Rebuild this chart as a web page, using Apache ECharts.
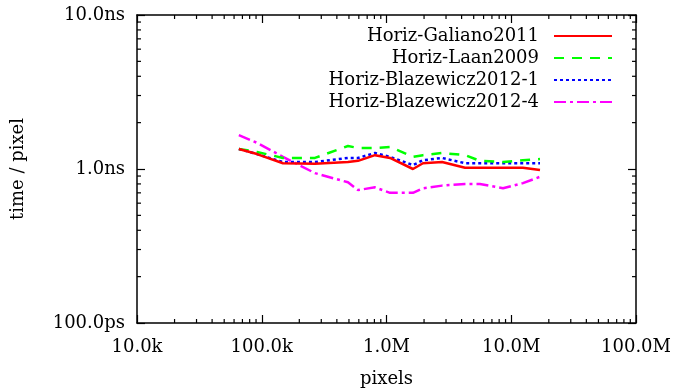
<!DOCTYPE html>
<html>
<head>
<meta charset="utf-8">
<script src="https://cdn.jsdelivr.net/npm/echarts@6/dist/echarts.min.js"></script>
<style>html,body{margin:0;padding:0;background:#fff}#c{width:673px;height:392px}</style>
</head>
<body>
<div id="c"></div>
<script>
// problem sizes (pixels)
const pixels = [65536, 91600, 148000, 267000, 491000, 591000, 809000, 1067000, 1630000, 1960000, 2790000, 4260000, 5610000, 8590000, 12400000, 17000000];
// time per pixel in ns
const galiano2011 = [1.35, 1.25, 1.09, 1.08, 1.11, 1.13, 1.23, 1.18, 1.00, 1.09, 1.11, 1.02, 1.02, 1.02, 1.02, 0.985];
const laan2009 = [1.35, 1.29, 1.18, 1.18, 1.41, 1.37, 1.37, 1.39, 1.20, 1.23, 1.27, 1.23, 1.13, 1.11, 1.14, 1.16];
const blazewicz1 = [1.35, 1.25, 1.11, 1.11, 1.18, 1.18, 1.27, 1.20, 1.06, 1.14, 1.18, 1.09, 1.09, 1.09, 1.09, 1.09];
const blazewicz4 = [1.66, 1.48, 1.20, 0.94, 0.82, 0.73, 0.76, 0.70, 0.70, 0.75, 0.78, 0.80, 0.80, 0.75, 0.81, 0.89];
const seriesNames = ['Horiz-Galiano2011', 'Horiz-Laan2009', 'Horiz-Blazewicz2012-1', 'Horiz-Blazewicz2012-4'];
const xTickLabels = ['10.0k', '100.0k', '1.0M', '10.0M', '100.0M'];
const yTickLabels = ['100.0ps', '1.0ns', '10.0ns'];

const FONT = 'DejaVu Serif';
const FS = 18;
const chart = echarts.init(document.getElementById('c'));
const zip = (xs, ys) => xs.map((x, i) => [x, ys[i]]);

const styles = [
  { color: '#ff0000', type: 'solid' },
  { color: '#00ff00', type: [10, 8] },
  { color: '#0000ff', type: [3, 3] },
  { color: '#ff00ff', type: [12, 4, 3, 4] }
];
const allData = [galiano2011, laan2009, blazewicz1, blazewicz4];

const xLab = v => xTickLabels[Math.round(Math.log10(v)) - 4] || '';
const yLab = v => yTickLabels[Math.round(Math.log10(v)) + 1] || '';

const baseX = {
  type: 'log', logBase: 10, min: 1e4, max: 1e8,
  axisLine: { show: true, lineStyle: { color: '#000', width: 1.5 } },
  axisTick: { show: true, inside: true, length: 8, lineStyle: { color: '#000', width: 1.2 } },
  splitLine: { show: false }
};
const baseY = {
  type: 'log', logBase: 10, min: 0.1, max: 10,
  axisLine: { show: true, lineStyle: { color: '#000', width: 1.5 } },
  axisTick: { show: true, inside: true, length: 8, lineStyle: { color: '#000', width: 1.2 } },
  splitLine: { show: false }
};

const legendRows = [34, 56, 78, 100];

chart.setOption({
  animation: false,
  grid: { left: 137, right: 37, top: 15, bottom: 69, containLabel: false, outerBoundsMode: 'none' },
  xAxis: [
    Object.assign({}, baseX, {
      position: 'bottom',
      name: 'pixels', nameLocation: 'middle', nameGap: 47,
      nameTextStyle: { fontFamily: FONT, fontSize: FS, color: '#000' },
      axisLabel: { formatter: xLab, fontFamily: FONT, fontSize: FS, color: '#000', margin: 15, showMinLabel: true, showMaxLabel: true }
    }),
    Object.assign({}, baseX, { position: 'top', axisLabel: { show: false } })
  ],
  yAxis: [
    Object.assign({}, baseY, {
      position: 'left',
      name: 'time / pixel', nameLocation: 'middle', nameGap: 110, nameRotate: 90,
      nameTextStyle: { fontFamily: FONT, fontSize: FS, color: '#000' },
      axisLabel: { formatter: yLab, fontFamily: FONT, fontSize: FS, color: '#000', margin: 12, showMinLabel: true, showMaxLabel: true }
    }),
    Object.assign({}, baseY, { position: 'right', axisLabel: { show: false } })
  ],
  legend: seriesNames.map((n, i) => ({
    data: [n], orient: 'vertical', right: 60, top: legendRows[i] - 7,
    align: 'right', itemWidth: 58, itemHeight: 14, padding: 0,
    itemStyle: { opacity: 0 },
    textStyle: { fontFamily: FONT, fontSize: FS, color: '#000', padding: [0, 10, 0, 0] }
  })),
  series: seriesNames.map((n, i) => ({
    name: n, type: 'line', symbol: 'none', xAxisIndex: 0, yAxisIndex: 0,
    data: zip(pixels, allData[i]),
    color: styles[i].color,
    lineStyle: { color: styles[i].color, width: 2.5, type: styles[i].type },
    z: 10 - i
  }))
});

// minor ticks (2..9 per decade) on all four sides, placed through the axes' scales
const g = [];
const minorLen = 4;
const yTop = chart.convertToPixel({ yAxisIndex: 0 }, 10);
const yBot = chart.convertToPixel({ yAxisIndex: 0 }, 0.1);
const xLeft = chart.convertToPixel({ xAxisIndex: 0 }, 1e4);
const xRight = chart.convertToPixel({ xAxisIndex: 0 }, 1e8);
const tickStyle = { stroke: '#000', lineWidth: 1.2 };
for (let d = 4; d < 8; d++) {
  for (let m = 2; m <= 9; m++) {
    const px = chart.convertToPixel({ xAxisIndex: 0 }, m * Math.pow(10, d));
    g.push({ type: 'line', shape: { x1: px, y1: yBot, x2: px, y2: yBot - minorLen }, style: tickStyle, silent: true });
    g.push({ type: 'line', shape: { x1: px, y1: yTop, x2: px, y2: yTop + minorLen }, style: tickStyle, silent: true });
  }
}
for (let d = -1; d < 1; d++) {
  for (let m = 2; m <= 9; m++) {
    const py = chart.convertToPixel({ yAxisIndex: 0 }, m * Math.pow(10, d));
    g.push({ type: 'line', shape: { x1: xLeft, y1: py, x2: xLeft + minorLen, y2: py }, style: tickStyle, silent: true });
    g.push({ type: 'line', shape: { x1: xRight, y1: py, x2: xRight - minorLen, y2: py }, style: tickStyle, silent: true });
  }
}
chart.setOption({ graphic: g });
</script>
</body>
</html>
